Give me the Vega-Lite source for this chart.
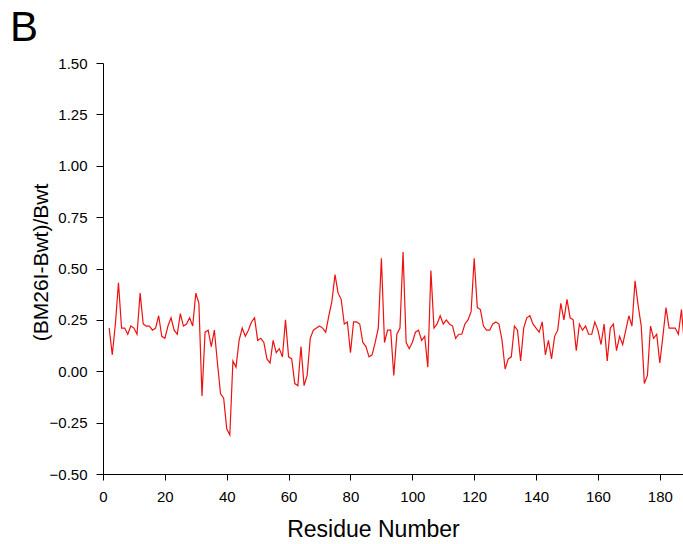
{
"$schema": "https://vega.github.io/schema/vega-lite/v6.json",
"width": 580,
"height": 411,
"autosize": {"type": "none"},
"padding": {"left": 103, "top": 63, "right": 0, "bottom": 70},
"background": "white",
"title": {"text": "B", "anchor": "start", "frame": "group", "fontSize": 42, "font": "Liberation Sans", "fontWeight": "normal", "color": "black", "dx": -93, "dy": -6, "offset": 0, "baseline": "top"},
"config": {
  "view": {"stroke": null},
  "axis": {"grid": false, "domainColor": "black", "tickColor": "black", "labelColor": "black", "titleColor": "black", "labelFont": "Liberation Sans", "titleFont": "Liberation Sans", "labelFontSize": 15, "titleFontWeight": "normal", "labelFlush": false, "domainWidth": 1, "tickWidth": 1}
},
"data": {"values": [
{"r":2,"v":0.21},{"r":3,"v":0.08},{"r":4,"v":0.23},{"r":5,"v":0.43},{"r":6,"v":0.21},{"r":7,"v":0.21},{"r":8,"v":0.18},{"r":9,"v":0.22},{"r":10,"v":0.21},
{"r":11,"v":0.18},{"r":12,"v":0.38},{"r":13,"v":0.23},{"r":14,"v":0.22},{"r":15,"v":0.22},{"r":16,"v":0.20},{"r":17,"v":0.21},{"r":18,"v":0.27},{"r":19,"v":0.17},{"r":20,"v":0.16},
{"r":21,"v":0.22},{"r":22,"v":0.26},{"r":23,"v":0.20},{"r":24,"v":0.18},{"r":25,"v":0.28},{"r":26,"v":0.22},{"r":27,"v":0.23},{"r":28,"v":0.26},{"r":29,"v":0.22},{"r":30,"v":0.38},
{"r":31,"v":0.33},{"r":32,"v":-0.12},{"r":33,"v":0.19},{"r":34,"v":0.20},{"r":35,"v":0.12},{"r":36,"v":0.20},{"r":37,"v":0.04},{"r":38,"v":-0.11},{"r":39,"v":-0.13},{"r":40,"v":-0.28},
{"r":41,"v":-0.31},{"r":42,"v":0.05},{"r":43,"v":0.02},{"r":44,"v":0.15},{"r":45,"v":0.21},{"r":46,"v":0.17},{"r":47,"v":0.20},{"r":48,"v":0.24},{"r":49,"v":0.26},{"r":50,"v":0.15},
{"r":51,"v":0.16},{"r":52,"v":0.14},{"r":53,"v":0.06},{"r":54,"v":0.04},{"r":55,"v":0.15},{"r":56,"v":0.09},{"r":57,"v":0.11},{"r":58,"v":0.07},{"r":59,"v":0.25},{"r":60,"v":0.07},
{"r":61,"v":0.06},{"r":62,"v":-0.06},{"r":63,"v":-0.07},{"r":64,"v":0.12},{"r":65,"v":-0.07},{"r":66,"v":-0.02},{"r":67,"v":0.16},{"r":68,"v":0.20},{"r":69,"v":0.21},{"r":70,"v":0.22},
{"r":71,"v":0.21},{"r":72,"v":0.19},{"r":73,"v":0.27},{"r":74,"v":0.34},{"r":75,"v":0.47},{"r":76,"v":0.38},{"r":77,"v":0.35},{"r":78,"v":0.23},{"r":79,"v":0.24},{"r":80,"v":0.09},
{"r":81,"v":0.24},{"r":82,"v":0.24},{"r":83,"v":0.23},{"r":84,"v":0.14},{"r":85,"v":0.12},{"r":86,"v":0.07},{"r":87,"v":0.08},{"r":88,"v":0.14},{"r":89,"v":0.21},{"r":90,"v":0.55},
{"r":91,"v":0.14},{"r":92,"v":0.20},{"r":93,"v":0.20},{"r":94,"v":-0.02},{"r":95,"v":0.18},{"r":96,"v":0.21},{"r":97,"v":0.58},{"r":98,"v":0.14},{"r":99,"v":0.11},{"r":100,"v":0.14},
{"r":101,"v":0.19},{"r":102,"v":0.20},{"r":103,"v":0.15},{"r":104,"v":0.17},{"r":105,"v":0.02},{"r":106,"v":0.49},{"r":107,"v":0.21},{"r":108,"v":0.23},{"r":109,"v":0.27},{"r":110,"v":0.23},
{"r":111,"v":0.25},{"r":112,"v":0.23},{"r":113,"v":0.22},{"r":114,"v":0.16},{"r":115,"v":0.18},{"r":116,"v":0.18},{"r":117,"v":0.23},{"r":118,"v":0.25},{"r":119,"v":0.29},{"r":120,"v":0.55},
{"r":121,"v":0.31},{"r":122,"v":0.30},{"r":123,"v":0.22},{"r":124,"v":0.20},{"r":125,"v":0.20},{"r":126,"v":0.23},{"r":127,"v":0.24},{"r":128,"v":0.23},{"r":129,"v":0.15},{"r":130,"v":0.01},
{"r":131,"v":0.06},{"r":132,"v":0.07},{"r":133,"v":0.22},{"r":134,"v":0.20},{"r":135,"v":0.05},{"r":136,"v":0.21},{"r":137,"v":0.26},{"r":138,"v":0.27},{"r":139,"v":0.23},{"r":140,"v":0.21},
{"r":141,"v":0.19},{"r":142,"v":0.24},{"r":143,"v":0.08},{"r":144,"v":0.15},{"r":145,"v":0.06},{"r":146,"v":0.17},{"r":147,"v":0.20},{"r":148,"v":0.33},{"r":149,"v":0.25},{"r":150,"v":0.35},
{"r":151,"v":0.26},{"r":152,"v":0.25},{"r":153,"v":0.10},{"r":154,"v":0.23},{"r":155,"v":0.20},{"r":156,"v":0.22},{"r":157,"v":0.18},{"r":158,"v":0.18},{"r":159,"v":0.24},{"r":160,"v":0.20},
{"r":161,"v":0.13},{"r":162,"v":0.23},{"r":163,"v":0.05},{"r":164,"v":0.21},{"r":165,"v":0.23},{"r":166,"v":0.10},{"r":167,"v":0.17},{"r":168,"v":0.13},{"r":169,"v":0.20},{"r":170,"v":0.27},
{"r":171,"v":0.22},{"r":172,"v":0.44},{"r":173,"v":0.32},{"r":174,"v":0.22},{"r":175,"v":-0.06},{"r":176,"v":-0.02},{"r":177,"v":0.22},{"r":178,"v":0.16},{"r":179,"v":0.18},{"r":180,"v":0.04},
{"r":181,"v":0.17},{"r":182,"v":0.31},{"r":183,"v":0.21},{"r":184,"v":0.21},{"r":185,"v":0.21},{"r":186,"v":0.18},{"r":187,"v":0.30},{"r":188,"v":0.12}
]},
"mark": {"type": "line", "color": "#ee1111", "strokeWidth": 1.2, "clip": true},
"encoding": {
  "x": {"field": "r", "type": "quantitative",
    "scale": {"domain": [0, 187.5], "nice": false, "zero": false},
    "axis": {"values": [0,20,40,60,80,100,120,140,160,180], "title": "Residue Number", "titleFontSize": 23, "tickSize": 6, "labelPadding": 9, "titleX": 270, "titleY": 62, "titleBaseline": "alphabetic", "titleAlign": "center"}},
  "y": {"field": "v", "type": "quantitative",
    "scale": {"domain": [-0.5, 1.5], "nice": false, "zero": false},
    "axis": {"values": [-0.5,-0.25,0,0.25,0.5,0.75,1,1.25,1.5], "format": ".2f", "title": "(BM26I-Bwt)/Bwt", "titleFontSize": 21, "tickSize": 7, "labelPadding": 9, "titleAngle": -90, "titleX": -56, "titleY": 199, "titleAlign": "center", "titleBaseline": "alphabetic"}}
}
}
